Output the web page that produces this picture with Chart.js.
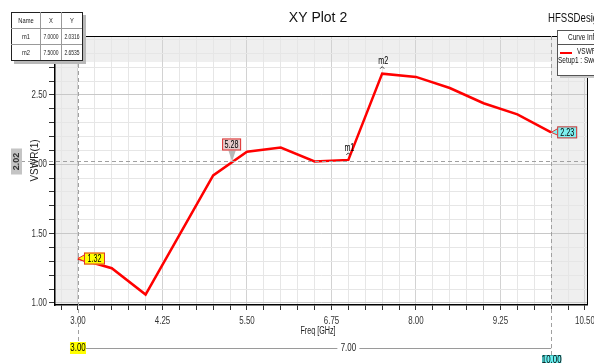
<!DOCTYPE html>
<html>
<head>
<meta charset="utf-8">
<script src="https://cdn.jsdelivr.net/npm/chart.js@4"></script>
<style>
  body { margin: 0; background: #fff; }
  #chart { display: block; }
</style>
</head>
<body>
<canvas id="chart" width="594" height="363"></canvas>
<script>
// curve VSWR(1) vs Freq [GHz]
var freq = [3.0, 3.5, 4.0, 5.0, 5.5, 6.0, 6.5, 7.0, 7.5, 8.0, 8.5, 9.0, 9.5, 10.0];
var vswr = [1.32, 1.25, 1.06, 1.92, 2.09, 2.12, 2.02, 2.0316, 2.6535, 2.63, 2.55, 2.44, 2.36, 2.23];

var xTickLabels = ['3.00', '4.25', '5.50', '6.75', '8.00', '9.25', '10.50'];
var yTickLabels = ['1.00', '1.50', '2.00', '2.50'];

// markers
var markerNames = ['m1', 'm2'];
var markerX = [7.0, 7.5];
var markerY = [2.0316, 2.6535];

// flags on the curve
var flagX = [3.0, 5.28, 10.0];
var flagY = [1.32, 2.02, 2.23];
var flagText = ['1.32', '5.28', '2.23'];

var hLineY = 2.02;
var sliderValues = [3.00, 7.00, 10.00];
var sliderLabels = ['3.00', '7.00', '10.00'];

var SANS = '"Liberation Sans", Arial, sans-serif';

function isMajor(v, labels) {
    return labels.indexOf(v.toFixed(2)) >= 0;
}

// HFSS uses a narrow font, squeeze regular sans
function nText(ctx, text, x, y, size, align, color, sx) {
    sx = sx || 0.72;
    ctx.save();
    ctx.font = size + 'px ' + SANS;
    ctx.fillStyle = color || '#222';
    ctx.textAlign = align || 'center';
    ctx.textBaseline = 'middle';
    ctx.translate(x, y);
    ctx.scale(sx, 1);
    ctx.fillText(text, 0, 0);
    ctx.restore();
}

function flagBox(ctx, x, y, w, h, fill, text) {
    ctx.fillStyle = fill;
    ctx.fillRect(x, y, w, h);
    ctx.strokeStyle = '#e03030';
    ctx.lineWidth = 1;
    ctx.strokeRect(x + 0.5, y + 0.5, w - 1, h - 1);
    nText(ctx, text, x + w / 2, y + h / 2 + 0.5, 10, 'center', '#000');
}

var hfssPlugin = {
    id: 'hfss',
    beforeDraw: function(chart){
        var ctx = chart.ctx, a = chart.chartArea;
        var xs = chart.scales.x;
        ctx.save();
        ctx.fillStyle = '#fff';
        ctx.fillRect(0, 0, chart.width, chart.height);
        ctx.fillStyle = '#efefef';
        var x3 = xs.getPixelForValue(sliderValues[0]);
        var x10 = xs.getPixelForValue(sliderValues[2]);
        ctx.fillRect(a.left, a.top, x3 - a.left, a.bottom - a.top);
        ctx.fillRect(x10, a.top, a.right - x10, a.bottom - a.top);
        ctx.fillRect(a.left, a.top, a.right - a.left, 26);
        ctx.restore();
    },
    afterDraw: function(chart){
        var ctx = chart.ctx, a = chart.chartArea;
        var xs = chart.scales.x, ys = chart.scales.y;
        ctx.save();

        // tick labels
        xs.ticks.forEach(function(t){
            if (isMajor(t.value, xTickLabels))
                nText(ctx, t.value.toFixed(2), xs.getPixelForValue(t.value), a.bottom + 16, 11, 'center', '#333');
        });
        ys.ticks.forEach(function(t){
            if (isMajor(t.value, yTickLabels))
                nText(ctx, t.value.toFixed(2), a.left - 8, ys.getPixelForValue(t.value), 11, 'right', '#333');
        });

        // frame top / right
        ctx.strokeStyle = '#000';
        ctx.lineWidth = 1;
        ctx.beginPath();
        ctx.moveTo(82, a.top + 0.5); ctx.lineTo(557, a.top + 0.5);
        ctx.moveTo(a.right + 0.5, a.top); ctx.lineTo(a.right + 0.5, a.bottom);
        ctx.stroke();

        // dashed marker lines
        var x3 = xs.getPixelForValue(sliderValues[0]);
        var x7 = xs.getPixelForValue(sliderValues[1]);
        var x10 = xs.getPixelForValue(sliderValues[2]);
        var yh = Math.round(ys.getPixelForValue(hLineY)) + 0.5;
        ctx.setLineDash([4, 3]);
        ctx.strokeStyle = '#a0a0a0';
        ctx.beginPath();
        ctx.moveTo(21, yh); ctx.lineTo(a.right, yh);
        ctx.moveTo(Math.round(x3) + 0.5, a.top); ctx.lineTo(Math.round(x3) + 0.5, 343);
        ctx.moveTo(Math.round(x10) + 0.5, a.top); ctx.lineTo(Math.round(x10) + 0.5, 355);
        ctx.stroke();
        ctx.setLineDash([]);

        // slider
        ctx.strokeStyle = '#9a9a9a';
        ctx.beginPath();
        ctx.moveTo(x3, 348.5); ctx.lineTo(x10, 348.5);
        ctx.stroke();
        ctx.fillStyle = '#fff';
        ctx.fillRect(x7 - 11, 342, 22, 12);
        nText(ctx, sliderLabels[1], x7, 348, 11, 'center', '#222');
        ctx.fillStyle = '#ffff00';
        ctx.fillRect(x3 - 8, 342, 16, 12);
        nText(ctx, sliderLabels[0], x3, 348, 11, 'center', '#000');
        ctx.fillStyle = '#66f0f0';
        ctx.fillRect(x10 - 9, 355, 19, 10);
        ctx.strokeStyle = '#40b0b0';
        ctx.strokeRect(x10 - 8.5, 355.5, 18, 10);
        nText(ctx, sliderLabels[2], x10 + 0.5, 360, 11, 'center', '#000');

        // flags on the curve
        var p0x = xs.getPixelForValue(flagX[0]), p0y = ys.getPixelForValue(flagY[0]);
        ctx.fillStyle = '#ffff00';
        ctx.strokeStyle = '#e03030';
        ctx.beginPath();
        ctx.moveTo(p0x, p0y); ctx.lineTo(p0x + 7, p0y - 4); ctx.lineTo(p0x + 7, p0y + 3); ctx.closePath();
        ctx.fill(); ctx.stroke();
        flagBox(ctx, p0x + 6, p0y - 6, 21, 12, '#ffff00', flagText[0]);

        var p1x = xs.getPixelForValue(flagX[1]), p1y = ys.getPixelForValue(flagY[1]);
        ctx.fillStyle = '#b8b8b8';
        ctx.beginPath();
        ctx.moveTo(p1x, p1y); ctx.lineTo(p1x - 4, p1y - 12); ctx.lineTo(p1x + 4, p1y - 12); ctx.closePath();
        ctx.fill();
        flagBox(ctx, p1x - 10, p1y - 23, 19, 12, '#e6cccc', flagText[1]);

        var p2x = xs.getPixelForValue(flagX[2]), p2y = ys.getPixelForValue(flagY[2]);
        ctx.fillStyle = '#7ff0f0';
        ctx.strokeStyle = '#e03030';
        ctx.beginPath();
        ctx.moveTo(p2x, p2y); ctx.lineTo(p2x + 7, p2y - 4); ctx.lineTo(p2x + 7, p2y + 3); ctx.closePath();
        ctx.fill(); ctx.stroke();
        flagBox(ctx, p2x + 6, p2y - 6, 20, 12, '#7ff0f0', flagText[2]);

        // m1 / m2
        for (var i = 0; i < markerNames.length; i++) {
            var mx = xs.getPixelForValue(markerX[i]), my = ys.getPixelForValue(markerY[i]);
            nText(ctx, markerNames[i], mx + 1, my - 12, 10, 'center', '#000');
            ctx.strokeStyle = '#333';
            ctx.lineWidth = 1;
            ctx.beginPath();
            ctx.moveTo(mx - 2, my - 5); ctx.lineTo(mx, my - 7); ctx.lineTo(mx + 2, my - 5);
            ctx.stroke();
        }

        // rotated 2.02 box and y title
        ctx.save();
        ctx.translate(16, yh);
        ctx.rotate(-Math.PI / 2);
        ctx.fillStyle = '#c4c4c4';
        ctx.fillRect(-13, -5, 26, 11);
        ctx.fillStyle = '#333';
        ctx.font = 'bold 9px ' + SANS;
        ctx.textAlign = 'center';
        ctx.textBaseline = 'middle';
        ctx.fillText(hLineY.toFixed(2), 0, 0.5);
        ctx.restore();

        ctx.save();
        ctx.translate(35, (a.top + a.bottom) / 2 - 10);
        ctx.rotate(-Math.PI / 2);
        ctx.fillStyle = '#222';
        ctx.font = '10px ' + SANS;
        ctx.textAlign = 'center';
        ctx.textBaseline = 'middle';
        ctx.fillText('VSWR(1)', 0, 0);
        ctx.restore();

        // x title
        nText(ctx, 'Freq [GHz]', 318, 331, 10, 'center', '#222');

        // titles
        ctx.font = '14px ' + SANS;
        ctx.fillStyle = '#111';
        ctx.textAlign = 'center';
        ctx.textBaseline = 'middle';
        ctx.fillText('XY Plot 2', 318, 18);
        nText(ctx, 'HFSSDesign1', 548, 19, 12, 'left', '#111', 0.8);

        // legend box
        ctx.fillStyle = '#c8c8c8';
        ctx.fillRect(560, 33, 40, 45);
        ctx.fillStyle = '#fff';
        ctx.fillRect(557, 30, 40, 45);
        ctx.strokeStyle = '#555';
        ctx.strokeRect(557.5, 30.5, 40, 45);
        ctx.beginPath();
        ctx.moveTo(557, 44.5); ctx.lineTo(597, 44.5);
        ctx.stroke();
        nText(ctx, 'Curve Info', 568, 38, 9, 'left', '#111');
        ctx.strokeStyle = '#ff0000';
        ctx.lineWidth = 2;
        ctx.beginPath();
        ctx.moveTo(560, 53); ctx.lineTo(572, 53);
        ctx.stroke();
        nText(ctx, 'VSWR(1)', 577, 52, 9, 'left', '#111');
        nText(ctx, 'Setup1 : Sweep', 558, 61, 9, 'left', '#111');

        // marker table
        ctx.fillStyle = '#b8b8b8';
        ctx.fillRect(14, 15, 72, 49);
        ctx.fillStyle = '#fff';
        ctx.fillRect(11, 12, 71, 48);
        ctx.strokeStyle = '#222';
        ctx.lineWidth = 1;
        ctx.strokeRect(11.5, 12.5, 71, 48);
        ctx.strokeStyle = '#999';
        ctx.beginPath();
        ctx.moveTo(11, 28.5); ctx.lineTo(82, 28.5);
        ctx.moveTo(11, 44.5); ctx.lineTo(82, 44.5);
        ctx.moveTo(40.5, 12); ctx.lineTo(40.5, 60);
        ctx.moveTo(61.5, 12); ctx.lineTo(61.5, 60);
        ctx.stroke();
        nText(ctx, 'Name', 26, 20.5, 8, 'center', '#222');
        nText(ctx, 'X', 51, 20.5, 8, 'center', '#222');
        nText(ctx, 'Y', 72, 20.5, 8, 'center', '#222');
        for (var j = 0; j < markerNames.length; j++) {
            var ry = 36.5 + j * 16;
            nText(ctx, markerNames[j], 26, ry, 8, 'center', '#222');
            nText(ctx, markerX[j].toFixed(4), 51, ry, 8, 'center', '#222', 0.62);
            nText(ctx, markerY[j].toFixed(4), 72, ry, 8, 'center', '#222', 0.62);
        }

        ctx.restore();
    }
};

var points = freq.map(function(f, i){ return {x: f, y: vswr[i]}; });

var myChart = new Chart(document.getElementById('chart'), {
    type: 'line',
    data: {
        datasets: [
            {
                label: 'VSWR(1)',
                data: points,
                borderColor: '#ff0000',
                backgroundColor: '#ff0000',
                borderWidth: 2.5,
                pointRadius: 0,
                tension: 0
            }
        ]
    },
    options: {
        responsive: false,
        devicePixelRatio: 1,
        animation: false,
        layout: { padding: { left: 0, top: 36, right: 7, bottom: 33 } },
        plugins: {
            legend: { display: false },
            tooltip: { enabled: false }
        },
        scales: {
            x: {
                type: 'linear',
                min: 2.66,
                max: 10.53,
                afterBuildTicks: function(scale){
                    var t = [];
                    for (var k = 11; k <= 42; k++) t.push({value: k * 0.25});
                    scale.ticks = t;
                },
                afterFit: function(scale){ scale.height = 25; },
                ticks: { display: false, autoSkip: false },
                grid: {
                    color: function(c){ return c.tick && isMajor(c.tick.value, xTickLabels) ? '#d2d2d2' : '#e6e6e6'; },
                    tickColor: '#333',
                    tickLength: 5,
                    lineWidth: 1
                },
                border: { color: '#000', width: 1.5 }
            },
            y: {
                type: 'linear',
                min: 0.985,
                max: 2.925,
                afterBuildTicks: function(scale){
                    var t = [];
                    for (var k = 10; k <= 29; k++) t.push({value: k / 10});
                    scale.ticks = t;
                },
                afterFit: function(scale){ scale.width = 55; },
                ticks: { display: false, autoSkip: false },
                grid: {
                    color: function(c){ return c.tick && isMajor(c.tick.value, yTickLabels) ? '#c8c8c8' : '#e6e6e6'; },
                    tickColor: '#333',
                    tickLength: 6,
                    lineWidth: 1
                },
                border: { color: '#000', width: 1.5 }
            }
        }
    },
    plugins: [hfssPlugin]
});
</script>
</body>
</html>
